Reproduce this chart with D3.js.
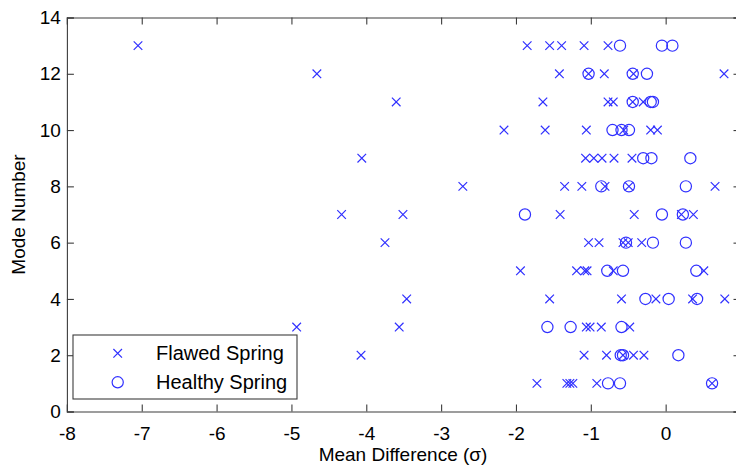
<!DOCTYPE html>
<html>
<head>
<meta charset="utf-8">
<script src="https://cdn.jsdelivr.net/npm/d3@7"></script>
<style>
  html, body { margin: 0; padding: 0; background: #fff; }
  svg { display: block; }
  text { font-family: "Liberation Sans", Arial, sans-serif; fill: #000; }
</style>
</head>
<body>
<svg id="chart" width="736" height="465"></svg>
<script>
// ---- data ----
const flawedMean = [
  -7.05, -1.85, -1.55, -1.39, -1.09, -0.77,
  -4.66, -1.42, -1.03, -0.82, -0.43, 0.78,
  -3.60, -1.64, -0.77, -0.70, -0.44, -0.30,
  -2.16, -1.61, -1.06, -0.56, -0.20, -0.11,
  -4.06, -1.07, -0.96, -0.85, -0.69, -0.45,
  -2.71, -1.35, -1.12, -0.81, -0.49, 0.66,
  -4.33, -3.51, -1.41, -0.42, 0.21, 0.37,
  -3.75, -1.03, -0.89, -0.57, -0.50, -0.32,
  -1.94, -1.19, -1.08, -1.05, -0.70, 0.51,
  -3.46, -1.55, -0.59, -0.13, 0.36, 0.79,
  -4.93, -3.56, -1.06, -1.01, -0.86, -0.48,
  -4.07, -1.09, -0.79, -0.57, -0.43, -0.29,
  -1.72, -1.32, -1.28, -1.24, -0.92, 0.62
];
const flawedMode = [
  13, 13, 13, 13, 13, 13,
  12, 12, 12, 12, 12, 12,
  11, 11, 11, 11, 11, 11,
  10, 10, 10, 10, 10, 10,
  9, 9, 9, 9, 9, 9,
  8, 8, 8, 8, 8, 8,
  7, 7, 7, 7, 7, 7,
  6, 6, 6, 6, 6, 6,
  5, 5, 5, 5, 5, 5,
  4, 4, 4, 4, 4, 4,
  3, 3, 3, 3, 3, 3,
  2, 2, 2, 2, 2, 2,
  1, 1, 1, 1, 1, 1
];
const healthyMean = [
  -0.61, -0.05, 0.09,
  -1.03, -0.44, -0.25,
  -0.44, -0.20, -0.17,
  -0.71, -0.59, -0.49,
  -0.30, -0.19, 0.33,
  -0.86, -0.49, 0.27,
  -1.88, -0.05, 0.23,
  -0.53, -0.17, 0.27,
  -0.78, -0.57, 0.41,
  -0.27, 0.04, 0.42,
  -1.58, -1.27, -0.59,
  -0.60, -0.57, 0.17,
  -0.77, -0.61, 0.62
];
const healthyMode = [
  13, 13, 13,
  12, 12, 12,
  11, 11, 11,
  10, 10, 10,
  9, 9, 9,
  8, 8, 8,
  7, 7, 7,
  6, 6, 6,
  5, 5, 5,
  4, 4, 4,
  3, 3, 3,
  2, 2, 2,
  1, 1, 1
];
const xTicks = [-8, -7, -6, -5, -4, -3, -2, -1, 0, 1];
const yTicks = [0, 2, 4, 6, 8, 10, 12, 14];
const xDomain = [-8, 1];
const yDomain = [0, 14];
const seriesNames = ["Flawed Spring", "Healthy Spring"];
const xLabel = "Mean Difference (\u03c3)";
const yLabel = "Mode Number";

// ---- layout ----
const svg = d3.select("#chart");
const pLeft = 66.9, pRight = 740.5, pTop = 17.5, pBottom = 411.5;
const x = d3.scaleLinear().domain(xDomain).range([pLeft, pRight]);
const y = d3.scaleLinear().domain(yDomain).range([pBottom, pTop]);
const axisColor = "#3c3c3c";
const markColor = "#3030ff";
const fs = 19;

svg.append("rect").attr("width", 736).attr("height", 465).attr("fill", "#fff");

// axes
const tl = 7;
const gB = svg.append("g").attr("transform", `translate(0,${pBottom})`)
  .call(d3.axisBottom(x).tickValues(xTicks).tickSize(-tl).tickPadding(15));
const gT = svg.append("g").attr("transform", `translate(0,${pTop})`)
  .call(d3.axisTop(x).tickValues(xTicks).tickSize(-tl).tickFormat(""));
const gL = svg.append("g").attr("transform", `translate(${pLeft},0)`)
  .call(d3.axisLeft(y).tickValues(yTicks).tickSize(-tl).tickPadding(6));
const gR = svg.append("g").attr("transform", `translate(${pRight},0)`)
  .call(d3.axisRight(y).tickValues(yTicks).tickSize(-tl).tickFormat(""));
[gB, gT, gL, gR].forEach(g => {
  g.selectAll(".domain").attr("stroke", axisColor).attr("stroke-width", 1.1);
  g.selectAll(".tick line").attr("stroke", axisColor).attr("stroke-width", 1.1);
  g.selectAll("text").attr("font-size", fs).attr("fill", "#000")
    .style("font-family", '"Liberation Sans", Arial, sans-serif');
});
gB.selectAll(".tick text").text(d => d === 1 ? "" : String(d));
gL.selectAll(".tick text").text(d => String(d));

// markers
const cs = 4.3, cr = 5.6;
function cross(g, cx, cy) {
  g.append("path")
    .attr("d", `M${cx - cs},${cy - cs}L${cx + cs},${cy + cs}M${cx - cs},${cy + cs}L${cx + cs},${cy - cs}`)
    .attr("stroke", markColor).attr("stroke-width", 1.2).attr("fill", "none");
}
function circ(g, cx, cy) {
  g.append("circle").attr("cx", cx).attr("cy", cy).attr("r", cr)
    .attr("stroke", markColor).attr("stroke-width", 1.2).attr("fill", "none");
}
const plot = svg.append("g");
flawedMean.forEach((v, i) => cross(plot, x(v), y(flawedMode[i])));
healthyMean.forEach((v, i) => circ(plot, x(v), y(healthyMode[i])));

// axis labels
svg.append("text").attr("x", 403).attr("y", 461).attr("text-anchor", "middle")
  .attr("font-size", fs).text(xLabel);
svg.append("text").attr("transform", `translate(25,${(pTop + pBottom) / 2}) rotate(-90)`)
  .attr("text-anchor", "middle").attr("font-size", fs).text(yLabel);

// legend
const lg = svg.append("g");
lg.append("rect").attr("x", 73).attr("y", 335).attr("width", 224).attr("height", 64)
  .attr("fill", "#fff").attr("stroke", axisColor).attr("stroke-width", 1.1);
cross(lg, 117.7, 353.3);
circ(lg, 117.7, 382.3);
lg.append("text").attr("x", 156).attr("y", 360).attr("font-size", 20).text(seriesNames[0]);
lg.append("text").attr("x", 156).attr("y", 389).attr("font-size", 20).text(seriesNames[1]);
</script>
</body>
</html>
